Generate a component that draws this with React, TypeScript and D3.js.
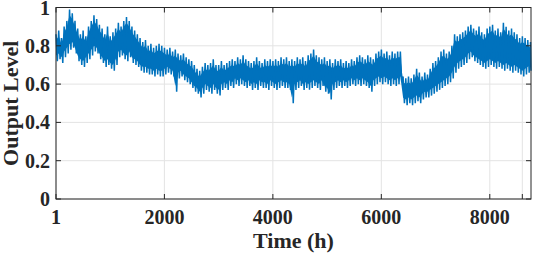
import { useRef, useEffect } from 'react';
import * as d3 from 'd3';

const hourStep = 50;
const firstHour = 1;

const upperLevel = [
  0.86, 0.88, 0.84, 0.9, 0.93, 0.99, 0.97, 0.93, 0.89, 0.86,
  0.88, 0.85, 0.9, 0.93, 0.96, 0.94, 0.91, 0.89, 0.86, 0.9,
  0.85, 0.87, 0.89, 0.92, 0.9, 0.93, 0.95, 0.93, 0.9, 0.88,
  0.86, 0.84, 0.82, 0.83, 0.8, 0.81, 0.79, 0.8, 0.81, 0.8,
  0.79, 0.78, 0.79, 0.77, 0.78, 0.76, 0.75, 0.76, 0.74, 0.73,
  0.72, 0.7, 0.68, 0.67, 0.69, 0.71, 0.7, 0.71, 0.73, 0.7,
  0.7, 0.72, 0.7, 0.71, 0.72, 0.73, 0.72, 0.74, 0.73, 0.75,
  0.73, 0.72, 0.71, 0.72, 0.74, 0.72, 0.71, 0.73, 0.72, 0.73,
  0.72, 0.73, 0.72, 0.74, 0.73, 0.74, 0.72, 0.73, 0.72, 0.74,
  0.73, 0.74, 0.72, 0.75, 0.76, 0.78, 0.75, 0.74, 0.73, 0.74,
  0.72, 0.73, 0.71, 0.73, 0.72, 0.73, 0.71, 0.72, 0.71, 0.73,
  0.72, 0.74, 0.75, 0.74, 0.73, 0.75, 0.74, 0.73, 0.76, 0.77,
  0.78, 0.76, 0.77, 0.75, 0.77, 0.76, 0.77, 0.77, 0.64, 0.63,
  0.64, 0.63, 0.65, 0.68, 0.66, 0.64, 0.66, 0.65, 0.68, 0.71,
  0.72, 0.74, 0.77, 0.78, 0.76, 0.77, 0.8, 0.86, 0.85, 0.86,
  0.87, 0.88, 0.9, 0.91, 0.89, 0.88, 0.9, 0.87, 0.86, 0.89,
  0.9, 0.91, 0.88, 0.89, 0.87, 0.92, 0.9, 0.88, 0.89, 0.87,
  0.86, 0.84, 0.85, 0.84, 0.83, 0.82,
];

const lowerLevel = [
  0.72, 0.73, 0.71, 0.74, 0.76, 0.78, 0.79, 0.76, 0.72, 0.7,
  0.69, 0.71, 0.73, 0.75, 0.77, 0.76, 0.73, 0.71, 0.69, 0.7,
  0.68, 0.67, 0.7, 0.74, 0.75, 0.73, 0.72, 0.74, 0.71, 0.7,
  0.69, 0.67, 0.66, 0.66, 0.65, 0.65, 0.64, 0.65, 0.64, 0.64,
  0.65, 0.66, 0.65, 0.64, 0.56, 0.63, 0.64, 0.62, 0.61, 0.6,
  0.58, 0.56, 0.55, 0.53, 0.55, 0.57, 0.56, 0.55, 0.57, 0.55,
  0.54, 0.57, 0.58, 0.57, 0.59, 0.58, 0.6, 0.59, 0.6, 0.59,
  0.58, 0.59, 0.57, 0.58, 0.57, 0.59, 0.58, 0.58, 0.57, 0.59,
  0.58, 0.57, 0.58, 0.59, 0.58, 0.58, 0.57, 0.5, 0.57, 0.58,
  0.59, 0.57, 0.58, 0.57, 0.58, 0.59, 0.58, 0.57, 0.59, 0.56,
  0.55, 0.52, 0.57, 0.58, 0.59, 0.58, 0.59, 0.58, 0.59, 0.6,
  0.59, 0.6, 0.59, 0.6, 0.59, 0.58, 0.56, 0.59, 0.6, 0.61,
  0.6, 0.61, 0.6, 0.59, 0.6, 0.59, 0.6, 0.61, 0.5, 0.49,
  0.5, 0.49, 0.5, 0.51, 0.5, 0.52, 0.53, 0.53, 0.54, 0.55,
  0.56, 0.57, 0.58, 0.59, 0.6, 0.61, 0.63, 0.66, 0.68, 0.69,
  0.7, 0.71, 0.73, 0.74, 0.72, 0.71, 0.7, 0.69, 0.68, 0.69,
  0.7, 0.69, 0.68, 0.69, 0.68, 0.67, 0.68, 0.67, 0.66, 0.67,
  0.66, 0.65, 0.64, 0.65, 0.66, 0.67,
];

const xTicks = [1, 2000, 4000, 6000, 8000, 8600];
const xTickLabels = ['1', '2000', '4000', '6000', '8000', ''];
const yTicks = [0, 0.2, 0.4, 0.6, 0.8, 1];
const yTickLabels = ['0', '0.2', '0.4', '0.6', '0.8', '1'];

function App() {
  const svgRef = useRef(null);

  const width = 533;
  const height = 256;

  useEffect(() => {
    const svg = d3.select(svgRef.current);
    const margin = { top: 7.5, right: 2, bottom: 57, left: 56 };
    const font = '"Liberation Serif", "Times New Roman", serif';
    const lineColor = '#0072BD';

    svg.selectAll('*').remove();
    svg.attr('width', width).attr('height', height);

    const scaleX = d3
      .scaleLinear()
      .domain([1, 8760])
      .range([margin.left, width - margin.right]);

    const scaleY = d3
      .scaleLinear()
      .domain([0, 1])
      .range([height - margin.bottom, margin.top]);

    const x0 = scaleX.range()[0];
    const x1 = scaleX.range()[1];
    const y0 = scaleY.range()[0];
    const y1 = scaleY.range()[1];

    // grid
    const grid = svg.append('g').attr('stroke', '#e3e3e3').attr('stroke-width', 1);
    xTicks.forEach((t) => {
      grid
        .append('line')
        .attr('x1', scaleX(t))
        .attr('x2', scaleX(t))
        .attr('y1', y1)
        .attr('y2', y0);
    });
    yTicks.forEach((t) => {
      grid
        .append('line')
        .attr('x1', x0)
        .attr('x2', x1)
        .attr('y1', scaleY(t))
        .attr('y2', scaleY(t));
    });

    const band = upperLevel.map((v, i) => ({
      hour: firstHour + i * hourStep,
      hi: v,
      lo: lowerLevel[i],
    }));

    // solid body of the band
    const area = d3
      .area()
      .x((d) => scaleX(d.hour))
      .y0((d) => scaleY(d3.min([d.lo + 0.03, d.hi])))
      .y1((d) => scaleY(d3.max([d.hi - 0.03, d.lo])));

    svg
      .append('path')
      .datum(band)
      .attr('fill', lineColor)
      .attr('d', area);

    // zigzag between the band's top and bottom for the jagged edges
    const points = [];
    band.forEach((d) => {
      points.push({ hour: d.hour, level: d.hi });
      points.push({ hour: Math.min(d.hour + hourStep / 2, 8760), level: d.lo });
    });

    const line = d3
      .line()
      .x((d) => scaleX(d.hour))
      .y((d) => scaleY(d.level));

    svg
      .append('path')
      .datum(points)
      .attr('fill', 'none')
      .attr('stroke', lineColor)
      .attr('stroke-width', 1.5)
      .attr('stroke-linejoin', 'miter')
      .attr('d', line);

    // box and inward ticks
    const axis = svg.append('g').attr('stroke', '#262626').attr('stroke-width', 1);
    axis
      .append('rect')
      .attr('x', x0)
      .attr('y', y1)
      .attr('width', x1 - x0)
      .attr('height', y0 - y1)
      .attr('fill', 'none');

    const tickLen = 5;
    xTicks.forEach((t) => {
      axis.append('line').attr('x1', scaleX(t)).attr('x2', scaleX(t)).attr('y1', y0).attr('y2', y0 - tickLen);
      axis.append('line').attr('x1', scaleX(t)).attr('x2', scaleX(t)).attr('y1', y1).attr('y2', y1 + tickLen);
    });
    yTicks.forEach((t) => {
      axis.append('line').attr('x1', x0).attr('x2', x0 + tickLen).attr('y1', scaleY(t)).attr('y2', scaleY(t));
      axis.append('line').attr('x1', x1).attr('x2', x1 - tickLen).attr('y1', scaleY(t)).attr('y2', scaleY(t));
    });

    svg
      .append('g')
      .selectAll('text')
      .data(xTicks)
      .join('text')
      .attr('x', (d) => scaleX(d))
      .attr('y', y0 + 25)
      .attr('text-anchor', 'middle')
      .style('font-family', font)
      .style('font-weight', 700)
      .style('font-size', '20px')
      .attr('fill', '#262626')
      .text((d, i) => xTickLabels[i]);

    svg
      .append('g')
      .selectAll('text')
      .data(yTicks)
      .join('text')
      .attr('x', x0 - 6)
      .attr('y', (d) => scaleY(d) + 7)
      .attr('text-anchor', 'end')
      .style('font-family', font)
      .style('font-weight', 700)
      .style('font-size', '20px')
      .attr('fill', '#262626')
      .text((d, i) => yTickLabels[i]);

    svg
      .append('text')
      .attr('x', (x0 + x1) / 2)
      .attr('y', 248)
      .attr('text-anchor', 'middle')
      .style('font-family', font)
      .style('font-weight', 700)
      .style('font-size', '22px')
      .attr('fill', '#262626')
      .text('Time (h)');

    svg
      .append('text')
      .attr('transform', `translate(18,${(y0 + y1) / 2}) rotate(-90)`)
      .attr('text-anchor', 'middle')
      .style('font-family', font)
      .style('font-weight', 700)
      .style('font-size', '22px')
      .attr('fill', '#262626')
      .text('Output Level');
  }, [width, height]);

  return (
    <svg
      ref={svgRef}
      style={{ position: 'absolute', left: 0, top: 0, background: '#fff' }}
    ></svg>
  );
}

export default App;
